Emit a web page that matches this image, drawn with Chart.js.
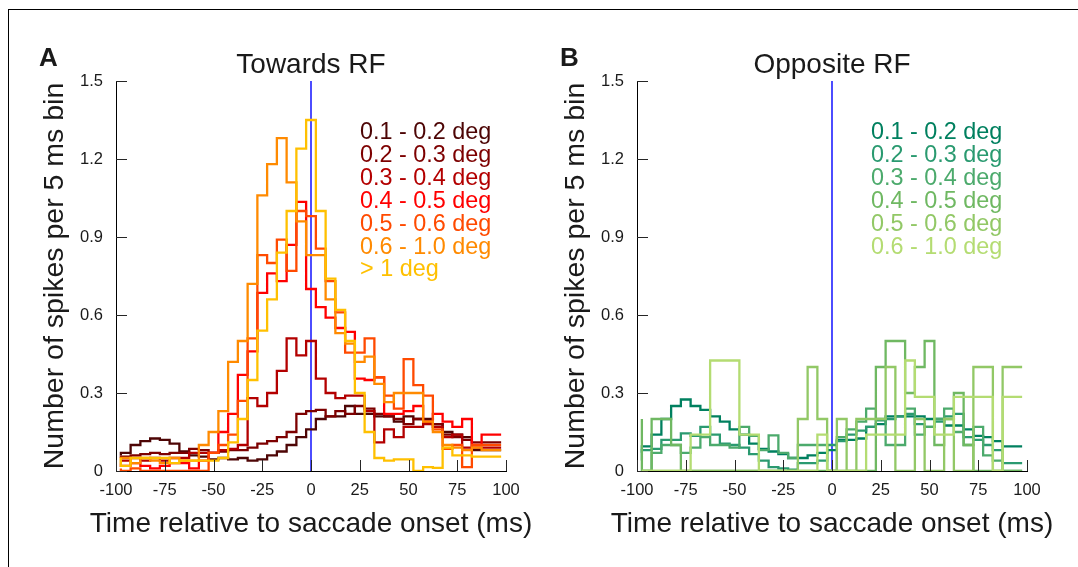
<!DOCTYPE html>
<html><head><meta charset="utf-8">
<script src="https://cdn.jsdelivr.net/npm/chart.js@4.4.0/dist/chart.umd.min.js"></script>
<style>
html,body{margin:0;padding:0;background:#fff;width:1078px;height:567px;overflow:hidden}
#frame{position:absolute;left:8px;top:9px;width:1070px;height:558px;border-top:1px solid #000;border-left:1px solid #000;box-sizing:border-box}
canvas{position:absolute;top:0}
#cA{left:0px}
#cB{left:521px}
</style></head><body>
<div id="frame"></div>
<canvas id="cA" width="540" height="567"></canvas>
<canvas id="cB" width="540" height="567"></canvas>
<script>
// ---- data ----
const binEdges = [-97.5,-92.5,-87.5,-82.5,-77.5,-72.5,-67.5,-62.5,-57.5,-52.5,-47.5,-42.5,-37.5,-32.5,-27.5,-22.5,-17.5,-12.5,-7.5,-2.5,2.5,7.5,12.5,17.5,22.5,27.5,32.5,37.5,42.5,47.5,52.5,57.5,62.5,67.5,72.5,77.5,82.5,87.5,92.5,97.5];
const xTicks = [-100,-75,-50,-25,0,25,50,75,100];
const xTickLabels = ['-100','-75','-50','-25','0','25','50','75','100'];
const yTicks = [0,0.3,0.6,0.9,1.2,1.5];
const yTickLabels = ['0','0.3','0.6','0.9','1.2','1.5'];

const labelsA = ['0.1 - 0.2 deg','0.2 - 0.3 deg','0.3 - 0.4 deg','0.4 - 0.5 deg','0.5 - 0.6 deg','0.6 - 1.0 deg','> 1 deg'];
const colorsA = ['#4d0505','#7d0000','#b30000','#ff0000','#ff4a00','#ff8a00','#ffc000'];
const towA1 = [0.06,0.07,0.10,0.115,0.125,0.12,0.105,0.075,0.06,0.055,0.045,0.05,0.045,0.05,0.04,0.045,0.06,0.075,0.10,0.13,0.16,0.20,0.21,0.21,0.25,0.22,0.22,0.21,0.21,0.19,0.21,0.20,0.20,0.18,0.15,0.14,0.13,0.08,0.08];
const towA2 = [0.05,0.055,0.06,0.065,0.07,0.065,0.07,0.07,0.085,0.08,0.07,0.075,0.08,0.08,0.09,0.105,0.115,0.13,0.15,0.22,0.23,0.235,0.21,0.23,0.22,0.25,0.24,0.22,0.21,0.20,0.18,0.20,0.19,0.18,0.14,0.13,0.12,0.11,0.11];
const towA3 = [0.04,0.04,0.05,0.04,0.05,0.04,0.05,0.05,0.07,0.07,0.07,0.08,0.085,0.10,0.28,0.25,0.30,0.385,0.51,0.445,0.50,0.355,0.30,0.28,0.29,0.29,0.23,0.11,0.16,0.13,0.17,0.17,0.18,0.17,0.13,0.14,0.09,0.09,0.09];
const towA4 = [0.03,0.02,0.03,0.02,0.01,0.02,0.03,0.03,0.01,0.04,0.07,0.15,0.22,0.37,0.46,0.685,0.76,0.73,0.87,1.035,0.70,0.63,0.59,0.55,0.535,0.355,0.35,0.36,0.22,0.22,0.23,0.25,0.19,0.22,0.19,0.17,0.20,0.10,0.14];
const towA5 = [0.01,0.0,0.01,0.0,0.0,0.0,0.0,0.0,0.0,0.0,0.07,0.10,0.14,0.27,0.51,0.83,0.80,0.89,0.77,1.00,0.98,0.855,0.73,0.61,0.455,0.455,0.51,0.36,0.29,0.24,0.43,0.33,0.29,0.16,0.085,0.10,0.015,0.10,0.10];
const towA6 = [0.03,0.05,0.03,0.05,0.04,0.03,0.05,0.04,0.04,0.10,0.15,0.23,0.42,0.50,0.72,1.06,1.18,1.28,1.11,0.96,0.83,0.83,0.66,0.53,0.49,0.42,0.44,0.335,0.265,0.30,0.30,0.30,0.19,0.15,0.10,0.09,0.08,0.09,0.08];
const towA7 = [0.05,0.02,0.05,0.05,0.05,0.05,0.03,0.04,0.04,0.04,0.04,0.05,0.11,0.20,0.35,0.54,0.66,0.84,1.00,1.24,1.35,1.00,0.74,0.62,0.50,0.30,0.15,0.05,0.04,0.045,0.045,0.0,0.015,0.012,0.09,0.06,0.06,0.055,0.055];

const labelsB = ['0.1 - 0.2 deg','0.2 - 0.3 deg','0.3 - 0.4 deg','0.4 - 0.5 deg','0.5 - 0.6 deg','0.6 - 1.0 deg'];
const colorsB = ['#00805f','#2a9a70','#4caa6c','#6fb862','#92c866','#b4dc72'];
const oppB1 = [0.07,0.095,0.14,0.20,0.25,0.275,0.25,0.235,0.21,0.19,0.16,0.14,0.105,0.085,0.075,0.065,0.05,0.05,0.06,0.07,0.08,0.12,0.12,0.125,0.17,0.18,0.21,0.21,0.21,0.21,0.20,0.20,0.175,0.175,0.16,0.135,0.13,0.115,0.095];
const oppB2 = [0.04,0.08,0.085,0.12,0.12,0.145,0.135,0.17,0.14,0.105,0.10,0.09,0.065,0.04,0.015,0.01,0.005,0.03,0.03,0.04,0.10,0.115,0.14,0.155,0.17,0.195,0.20,0.21,0.22,0.18,0.17,0.19,0.21,0.22,0.13,0.12,0.10,0.08,0.03];
const oppB3 = [0.0,0.0,0.07,0.10,0.10,0.07,0.09,0.13,0.10,0.10,0.09,0.17,0.135,0.08,0.137,0.07,0.05,0.10,0.10,0.10,0.0,0.13,0.16,0.19,0.24,0.20,0.10,0.10,0.24,0.14,0.17,0.20,0.24,0.15,0.10,0.17,0.06,0.04,0.0];
const oppB4 = [0.20,0.0,0.20,0.20,0.10,0.0,0.0,0.0,0.0,0.0,0.0,0.0,0.0,0.0,0.0,0.0,0.0,0.0,0.0,0.0,0.0,0.0,0.0,0.0,0.0,0.40,0.50,0.50,0.30,0.40,0.50,0.10,0.20,0.30,0.10,0.0,0.0,0.0,0.0];
const oppB5 = [0.0,0.0,0.0,0.0,0.0,0.0,0.0,0.0,0.0,0.0,0.0,0.0,0.0,0.0,0.0,0.0,0.0,0.20,0.40,0.20,0.0,0.20,0.0,0.20,0.20,0.20,0.40,0.0,0.0,0.20,0.0,0.0,0.20,0.0,0.0,0.40,0.40,0.0,0.40];
const oppB6 = [0,0,0,0,0,0,0.14,0.14,0.425,0.425,0.425,0.14,0.14,0,0,0,0,0,0,0.14,0,0,0,0,0.14,0.14,0.14,0.14,0.425,0.285,0.285,0.14,0.14,0.285,0.285,0.285,0.285,0,0.285];

const xTitle = 'Time relative to saccade onset (ms)';
const yTitle = 'Number of spikes per 5 ms bin';
const FONT = '"Liberation Sans", Arial, Helvetica, sans-serif';
const TXT = '#1a1a1a';

function toSteps(vals){
  const pts = vals.map((v,i)=>({x:binEdges[i], y:v}));
  pts.push({x:binEdges[binEdges.length-1], y:vals[vals.length-1]});
  return pts;
}

const inwardTicks = {
  id:'inwardTicks',
  afterDraw(chart){
    const ctx = chart.ctx, a = chart.chartArea;
    const xs = chart.scales.x, ys = chart.scales.y;
    ctx.save();
    ctx.strokeStyle = '#262626'; ctx.lineWidth = 1;
    ctx.beginPath();
    xs.ticks.forEach(t=>{const p=Math.round(xs.getPixelForValue(t.value))+0.5; ctx.moveTo(p,a.bottom); ctx.lineTo(p,a.bottom-11);});
    ys.ticks.forEach(t=>{const p=Math.round(ys.getPixelForValue(t.value))+0.5; ctx.moveTo(a.left,p); ctx.lineTo(a.left+11,p);});
    ctx.stroke();
    ctx.restore();
  }
};

const panelText = {
  id:'panelText',
  afterDraw(chart, args, o){
    const ctx = chart.ctx, a = chart.chartArea;
    ctx.save();
    ctx.fillStyle = TXT;
    ctx.textBaseline = 'alphabetic';
    ctx.font = 'bold 26px ' + FONT;
    ctx.textAlign = 'left';
    ctx.fillText(o.letter, 39, 66);
    ctx.font = '28px ' + FONT;
    ctx.textAlign = 'center';
    ctx.fillText(o.title, (a.left+a.right)/2, 73);
    ctx.font = '28px ' + FONT;
    ctx.fillText(xTitle, (a.left+a.right)/2, 532);
    ctx.font = '23.4px ' + FONT;
    ctx.textAlign = 'left';
    o.labels.forEach((l,i)=>{ ctx.fillStyle = o.colors[i]; ctx.fillText(l, o.legendX, 139 + 22.9*i); });
    ctx.restore();
  }
};

function makeChart(id, letter, title, labels, colors, series, legendX){
  const datasets = series.map((vals,i)=>({
    label: labels[i], data: toSteps(vals), borderColor: colors[i], borderWidth: 2.3,
    pointRadius: 0, stepped: 'after', fill: false, order: -i
  }));
  datasets.push({label:'saccade onset', data:[{x:0,y:0},{x:0,y:1.5}], borderColor:'#0000ff', borderWidth:1.4, pointRadius:0, order:100});
  return new Chart(document.getElementById(id), {
    type:'line',
    data:{datasets},
    options:{
      responsive:false, animation:false, devicePixelRatio:1,
      layout:{padding:{left:0,right:34,top:81,bottom:0}},
      plugins:{legend:{display:false}, tooltip:{enabled:false},
        panelText:{letter, title, labels, colors, legendX}},
      scales:{
        x:{type:'linear', min:-100, max:100,
          afterBuildTicks:s=>{s.ticks = xTicks.map(v=>({value:v}));},
          afterFit:s=>{s.height = 96;},
          grid:{display:false, drawTicks:false},
          border:{display:true, color:'#000', width:1},
          ticks:{font:{size:16.5, family:FONT}, color:TXT, padding:10, maxRotation:0, autoSkip:false,
            callback:(v,i)=>xTickLabels[i]},
          title:{display:false}
        },
        y:{type:'linear', min:0, max:1.5,
          afterBuildTicks:s=>{s.ticks = yTicks.map(v=>({value:v}));},
          afterFit:s=>{s.width = 116;},
          grid:{display:false, drawTicks:false},
          border:{display:true, color:'#000', width:1},
          ticks:{font:{size:16.5, family:FONT}, color:TXT, padding:13, autoSkip:false,
            callback:(v,i)=>yTickLabels[i]},
          title:{display:true, text:yTitle, font:{size:28.5, family:FONT}, color:TXT, padding:{top:38,bottom:0}}
        }
      }
    },
    plugins:[inwardTicks, panelText]
  });
}

makeChart('cA','A','Towards RF', labelsA, colorsA, [towA1,towA2,towA3,towA4,towA5,towA6,towA7], 360);
makeChart('cB','B','Opposite RF', labelsB, colorsB, [oppB1,oppB2,oppB3,oppB4,oppB5,oppB6], 350);
</script></body></html>
